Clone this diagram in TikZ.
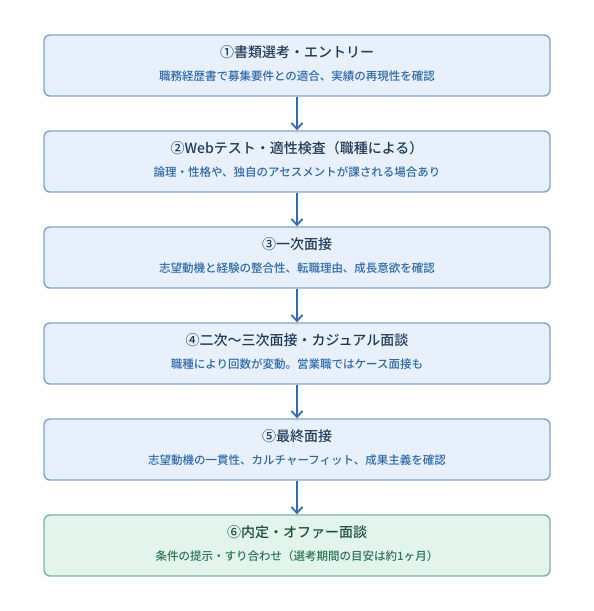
\documentclass[tikz,border=0pt]{standalone}
\usepackage{fontspec}
\newfontfamily\jp{Noto Sans CJK JP}
\newfontfamily\jpmed{Noto Sans CJK JP Medium}
\usetikzlibrary{arrows.meta}
\definecolor{stepfill}{HTML}{E8F1FB}
\definecolor{stepline}{HTML}{7CA4D1}
\definecolor{steptitle}{HTML}{1F3B5C}
\definecolor{stepsub}{HTML}{2D69AA}
\definecolor{endfill}{HTML}{E2F4EC}
\definecolor{endline}{HTML}{7DB4A2}
\definecolor{endtitle}{HTML}{1D4E3E}
\definecolor{endsub}{HTML}{2C7558}
\definecolor{flowarrow}{HTML}{2F6BAE}
\tikzset{
  x=1pt, y=-1pt,
  stepbox/.style={draw=stepline, fill=stepfill, line width=1.4pt, rounded corners=6pt,
    minimum width=506pt, minimum height=61pt, inner sep=0pt},
  endbox/.style={stepbox, draw=endline, fill=endfill},
  ttl/.style={font=\jpmed\fontsize{14}{16}\selectfont, text=steptitle, inner sep=0pt},
  sub/.style={font=\jpmed\fontsize{11.5}{13}\selectfont, text=stepsub, inner sep=0pt},
  flow/.style={draw=flowarrow, line width=1.8pt, -{Straight Barb[length=6pt,width=11pt,line width=1.8pt]}},
}
\begin{document}
\begin{tikzpicture}
\useasboundingbox (0,0) rectangle (594,611);
% process steps, top to bottom
\node[stepbox] (b1) at (297,65.5) {};
\node[stepbox] (b2) at (297,161.5) {};
\node[stepbox] (b3) at (297,257.5) {};
\node[stepbox] (b4) at (297,353.5) {};
\node[stepbox] (b5) at (297,449.5) {};
\node[endbox]  (b6) at (297,545.5) {};
% labels
\node[ttl] (t1) at (297,52) {①書類選考・エントリー};
\node[sub] (s1) at (297,76.5) {職務経歴書で募集要件との適合、実績の再現性を確認};
\node[ttl] (t2) at (297,148) {②Webテスト・適性検査（職種による）};
\node[sub] (s2) at (297,172.5) {論理・性格や、独自のアセスメントが課される場合あり};
\node[ttl] (t3) at (297,244) {③一次面接};
\node[sub] (s3) at (297,268.5) {志望動機と経験の整合性、転職理由、成長意欲を確認};
\node[ttl] (t4) at (297,340) {④二次〜三次面接・カジュアル面談};
\node[sub] (s4) at (297,364.5) {職種により回数が変動。営業職ではケース面接も};
\node[ttl] (t5) at (297,436) {⑤最終面接};
\node[sub] (s5) at (297,460.5) {志望動機の一貫性、カルチャーフィット、成果主義を確認};
\node[ttl, text=endtitle] (t6) at (297,532) {⑥内定・オファー面談};
\node[sub, text=endsub] (s6) at (297,556.5) {条件の提示・すり合わせ（選考期間の目安は約1ヶ月）};
% connectors
\foreach \a/\b in {b1/b2,b2/b3,b3/b4,b4/b5,b5/b6}
  \draw[flow] (\a.south) -- (\b.north);
\end{tikzpicture}
\end{document}
